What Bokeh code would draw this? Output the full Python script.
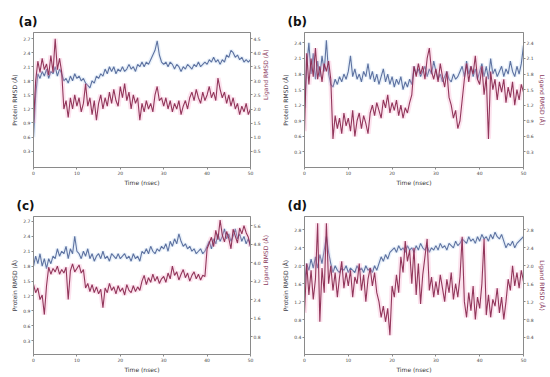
import math
from bokeh.plotting import figure
from bokeh.models import Range1d, LinearAxis, FixedTicker, PrintfTickFormatter
from bokeh.layouts import gridplot
from bokeh.embed import file_html
from bokeh.resources import INLINE

time_ns = [
    0.0, 0.5, 1.0, 1.5, 2.0, 2.5, 3.0, 3.5, 4.0, 4.5,
    5.0, 5.5, 6.0, 6.5, 7.0, 7.5, 8.0, 8.5, 9.0, 9.5,
    10.0, 10.5, 11.0, 11.5, 12.0, 12.5, 13.0, 13.5, 14.0, 14.5,
    15.0, 15.5, 16.0, 16.5, 17.0, 17.5, 18.0, 18.5, 19.0, 19.5,
    20.0, 20.5, 21.0, 21.5, 22.0, 22.5, 23.0, 23.5, 24.0, 24.5,
    25.0, 25.5, 26.0, 26.5, 27.0, 27.5, 28.0, 28.5, 29.0, 29.5,
    30.0, 30.5, 31.0, 31.5, 32.0, 32.5, 33.0, 33.5, 34.0, 34.5,
    35.0, 35.5, 36.0, 36.5, 37.0, 37.5, 38.0, 38.5, 39.0, 39.5,
    40.0, 40.5, 41.0, 41.5, 42.0, 42.5, 43.0, 43.5, 44.0, 44.5,
    45.0, 45.5, 46.0, 46.5, 47.0, 47.5, 48.0, 48.5, 49.0, 49.5,
    50.0]

x_ticks = [0, 10, 20, 30, 40, 50]

# ---------- panel (a) ----------
a_protein = [
    0.60, 1.50, 1.95, 1.85, 2.00, 1.90, 2.05, 1.85, 2.00, 1.95,
    2.10, 1.90, 2.05, 1.95, 1.80, 1.85, 1.75, 1.90, 1.80, 1.95,
    1.85, 1.90, 1.80, 1.85, 1.75, 1.70, 1.65, 1.80, 1.75, 1.90,
    1.85, 1.95, 1.90, 2.05, 1.95, 2.10, 2.00, 2.10, 1.95, 2.05,
    2.00, 2.10, 2.00, 2.05, 2.15, 2.05, 2.10, 2.00, 2.15, 2.10,
    2.20, 2.10, 2.20, 2.15, 2.25, 2.35, 2.45, 2.65, 2.35, 2.20,
    2.15, 2.20, 2.10, 2.20, 2.15, 2.05, 2.15, 2.10, 2.00, 2.10,
    2.05, 2.15, 2.10, 2.05, 2.15, 2.10, 2.20, 2.10, 2.15, 2.20,
    2.15, 2.25, 2.20, 2.30, 2.20, 2.25, 2.15, 2.25, 2.20, 2.35,
    2.30, 2.45, 2.40, 2.30, 2.35, 2.25, 2.30, 2.20, 2.25, 2.20,
    2.25]
a_ligand = [
    1.50, 3.00, 3.70, 3.30, 3.80, 3.40, 3.60, 3.20, 3.90, 3.30,
    4.50, 3.40, 3.80, 3.30, 2.00, 2.30, 1.70, 2.40, 2.00, 2.50,
    2.10, 2.40, 1.90, 2.20, 2.90, 2.10, 2.40, 1.80, 2.30, 1.60,
    2.20, 2.50, 2.00, 2.40, 2.10, 2.60, 2.20, 2.70, 2.30, 2.10,
    2.80, 2.40, 2.90, 2.30, 2.60, 2.00, 2.50, 2.20, 2.40, 1.60,
    2.20, 1.90, 2.30, 2.00, 2.20, 1.90, 2.50, 2.80, 2.30, 2.40,
    2.10, 2.40, 2.00, 2.30, 1.90, 2.20, 2.00, 2.30, 1.80, 2.10,
    2.30, 2.00, 2.40, 2.60, 2.30, 2.70, 2.40, 2.20, 2.60, 2.30,
    2.50, 2.80, 2.40, 2.60, 2.30, 3.10, 2.70, 2.40, 2.60, 2.20,
    2.50, 2.10, 2.40, 2.00, 2.20, 1.80, 2.10, 1.90, 2.20, 1.80,
    2.00]
a_left_ticks = [0.3, 0.6, 0.9, 1.2, 1.5, 1.8, 2.1, 2.4, 2.7]
a_right_ticks = [0.5, 1.0, 1.5, 2.0, 2.5, 3.0, 3.5, 4.0, 4.5]

# ---------- panel (b) ----------
b_protein = [
    1.15, 1.95, 2.40, 1.80, 2.20, 1.70, 2.05, 1.75, 2.15, 1.85,
    2.45, 1.80, 1.60, 1.55, 1.70, 1.60, 1.75, 1.65, 1.80, 1.70,
    1.85, 2.15, 1.75, 1.90, 1.70, 1.80, 1.65, 1.85, 1.75, 2.00,
    1.70, 1.85, 1.65, 1.80, 1.60, 1.75, 1.90, 1.65, 1.80, 1.60,
    1.75, 1.55, 1.70, 1.60, 1.75, 1.50, 1.65, 1.55, 1.70, 1.60,
    1.95, 1.80, 1.90, 1.75, 1.85, 1.95, 1.75, 1.90, 1.80, 2.05,
    1.85, 1.70, 1.80, 1.65, 1.75, 1.85, 1.70, 1.65, 1.80, 1.70,
    1.75, 1.85, 1.95, 1.75, 2.05, 1.80, 1.95, 1.75, 1.90, 1.70,
    1.85, 2.00, 1.75, 1.95, 1.70, 2.10, 1.80, 1.90, 1.75, 1.85,
    1.95, 1.75, 1.90, 1.80, 2.05, 1.85, 1.75, 1.95, 1.80, 2.00,
    2.35]
b_ligand = [
    0.70, 2.20, 1.60, 2.10, 1.75, 2.30, 1.70, 1.95, 1.65, 2.00,
    1.85, 2.05, 1.70, 0.55, 1.00, 0.75, 0.95, 0.65, 1.05, 0.80,
    0.95, 0.70, 1.10, 0.60, 0.90, 1.05, 0.75, 1.00, 0.85, 0.65,
    1.05, 1.20, 1.00, 1.25, 1.10, 0.95, 1.30, 1.15, 1.40, 1.05,
    1.25, 1.10, 1.30, 1.00, 1.20, 0.95, 1.15, 1.05, 1.25, 1.40,
    1.95, 1.75, 2.00, 1.80, 1.95, 1.70, 2.10, 2.30, 1.85, 1.70,
    1.90, 1.65, 2.00, 1.75, 1.55, 1.85, 1.35, 1.20, 0.95, 1.10,
    0.75, 0.90, 1.30, 1.70, 2.00, 1.65, 1.95, 1.80, 2.15, 1.70,
    1.60, 1.95, 1.40, 1.75, 0.55, 1.85, 1.50, 1.70, 1.30, 1.65,
    1.45, 1.70, 1.25, 1.55, 1.35, 1.65, 1.20, 1.50, 1.30, 1.60,
    1.45]
b_left_ticks = [0.3, 0.6, 0.9, 1.2, 1.5, 1.8, 2.1, 2.4]
b_right_ticks = [0.3, 0.6, 0.9, 1.2, 1.5, 1.8, 2.1, 2.4]

# ---------- panel (c) ----------
c_protein = [
    1.80, 2.00, 1.85, 2.05, 1.80, 1.95, 1.75, 1.95, 1.85, 2.00,
    1.95, 2.15, 2.00, 2.10, 2.05, 2.20, 1.95, 2.15, 2.05, 2.40,
    2.10, 2.05, 1.95, 2.10, 2.00, 2.15, 1.95, 2.05, 1.90, 2.00,
    2.05, 1.95, 2.10, 1.95, 2.00, 1.90, 2.05, 2.00, 1.95, 2.05,
    1.95, 2.00, 2.05, 1.95, 2.00, 1.90, 2.05, 1.95, 2.00, 1.90,
    2.10, 2.05, 2.15, 2.05, 2.20, 2.10, 2.05, 2.15, 2.10, 2.20,
    2.15, 2.25, 2.10, 2.30, 2.20, 2.35, 2.25, 2.45, 2.30, 2.20,
    2.25, 2.15, 2.20, 2.10, 2.15, 2.05, 2.10, 2.15, 2.05, 2.10,
    2.20, 2.30, 2.15, 2.35, 2.25, 2.45, 2.30, 2.40, 2.55, 2.35,
    2.45, 2.30, 2.40, 2.55, 2.35, 2.45, 2.30, 2.40, 2.25, 2.35,
    2.20]
c_ligand = [
    3.05, 2.70, 2.90, 2.40, 2.60, 1.75, 3.00, 3.80, 3.50, 3.75,
    3.60, 3.85, 3.50, 3.70, 3.55, 3.80, 2.40, 3.65, 3.95, 3.60,
    3.75, 3.90, 3.55, 3.70, 2.90, 3.10, 2.75, 3.05, 2.70, 2.95,
    2.65, 2.85, 2.05, 2.90, 2.70, 3.10, 2.80, 2.95, 2.65, 3.00,
    2.75, 2.90, 2.60, 3.05, 2.80, 2.70, 3.00, 2.75, 2.95, 2.80,
    3.20, 3.45, 3.05, 3.35, 3.15, 3.50, 3.20, 3.40, 3.10, 3.30,
    3.40, 3.15, 3.55, 3.30, 3.85, 3.45, 3.60, 3.25, 3.50, 3.70,
    3.35, 3.55, 3.20, 3.45, 3.60, 3.30, 3.50, 3.25, 3.45, 3.40,
    4.60, 4.85, 5.10, 4.70, 5.40, 5.00, 5.85, 5.20, 4.90, 5.35,
    5.05, 4.60, 5.45, 5.15, 4.85, 5.50, 5.25, 5.60, 5.30, 5.10,
    4.70]
c_left_ticks = [0.3, 0.6, 0.9, 1.2, 1.5, 1.8, 2.1, 2.4, 2.7]
c_right_ticks = [0.8, 1.6, 2.4, 3.2, 4.0, 4.8, 5.6]

# ---------- panel (d) ----------
d_protein = [
    1.60, 2.05, 1.90, 2.15, 1.95, 2.20, 1.95, 2.25, 2.05, 2.35,
    2.65, 2.30, 2.05, 1.85, 2.00, 1.90, 1.85, 1.95, 1.90, 2.00,
    1.85, 1.95, 1.90, 1.85, 2.00, 1.90, 1.95, 1.85, 2.00, 1.90,
    1.95, 1.85, 2.00, 1.90, 2.05, 2.20, 2.10, 2.25, 2.15, 2.30,
    2.35, 2.40, 2.30, 2.45, 2.35, 2.40, 2.30, 2.45, 2.35, 2.40,
    2.30, 2.45, 2.35, 2.50, 2.40, 2.35, 2.45, 2.30, 2.40, 2.35,
    2.45, 2.35, 2.50, 2.40, 2.45, 2.35, 2.50, 2.45, 2.40, 2.55,
    2.45, 2.50, 2.60, 2.55, 2.50, 2.65, 2.55, 2.60, 2.50, 2.65,
    2.55, 2.70, 2.60, 2.65, 2.55, 2.70, 2.60, 2.75, 2.65, 2.60,
    2.70, 2.55, 2.40, 2.50, 2.45, 2.55, 2.40, 2.50, 2.55, 2.60,
    2.65]
d_ligand = [
    0.95, 2.05, 1.35, 1.90, 1.25, 1.70, 2.95, 0.75, 1.95, 1.40,
    2.95, 1.60, 2.00, 1.45, 1.85, 1.30, 1.75, 2.10, 1.50, 1.85,
    1.55, 1.90, 1.30, 1.75, 1.60, 2.05, 1.45, 1.80, 1.20, 1.70,
    1.95, 1.55, 1.85, 1.40, 1.20, 0.85, 1.10, 0.75, 1.05, 0.45,
    1.55, 1.30, 1.80, 1.40, 2.20, 1.85, 2.55, 2.10, 2.35, 1.60,
    2.40, 1.35, 2.05, 1.15, 1.80, 2.20, 2.60, 1.45, 1.75, 1.30,
    1.65, 1.35, 1.80, 1.50, 1.20, 1.70, 1.40, 1.85, 1.25, 1.60,
    1.30, 1.75, 2.65, 1.20, 0.85, 1.40, 1.00, 1.55, 0.80, 1.30,
    1.05, 1.60, 2.60, 0.90, 1.35, 0.85, 1.25, 1.10, 1.50, 0.95,
    1.30, 0.80, 1.20, 1.70, 1.45, 2.00, 1.55, 1.85, 1.50, 1.90,
    1.65]
d_left_ticks = [0.4, 0.8, 1.2, 1.6, 2.0, 2.4, 2.8]
d_right_ticks = [0.4, 0.8, 1.2, 1.6, 2.0, 2.4, 2.8]

BLUE = "#566b9c"
BLUE_HALO = "#a8c6ea"
RED = "#8c2c52"
HALO = "#f4a3c6"
FRAME = "#8a8a8a"
FONT = "DejaVu Sans"


def style_axis(ax, label, label_color):
    ax.axis_label = label
    ax.axis_label_text_font = FONT
    ax.axis_label_text_font_size = "6px"
    ax.axis_label_text_font_style = "normal"
    ax.axis_label_text_color = label_color
    ax.axis_label_standoff = 2
    ax.major_label_text_font = FONT
    ax.major_label_text_font_size = "4.5px"
    ax.major_label_text_color = "#444444"
    ax.major_label_standoff = 1
    ax.major_tick_out = 2
    ax.major_tick_in = 0
    ax.minor_tick_out = 0
    ax.minor_tick_in = 0
    ax.axis_line_color = FRAME
    ax.major_tick_line_color = FRAME


def panel(tag, prot, lig, lrange, rrange, lticks, rticks, right_up,
          width, height, b_left, b_right, b_top, b_bottom, title_offset):
    p = figure(width=width, height=height, output_backend="svg", toolbar_location=None,
               x_range=Range1d(0, 50), y_range=Range1d(*lrange),
               min_border_left=b_left, min_border_right=b_right,
               min_border_top=b_top, min_border_bottom=b_bottom)
    p.title.text = tag
    p.title.text_font = FONT
    p.title.text_font_size = "12px"
    p.title.text_font_style = "bold"
    p.title.text_color = "#111111"
    p.title.offset = title_offset
    p.title.standoff = 7
    p.extra_y_ranges = {"lig": Range1d(*rrange)}
    p.xgrid.visible = False
    p.ygrid.visible = False
    p.outline_line_color = FRAME
    p.outline_line_width = 1
    p.background_fill_color = "white"
    p.border_fill_color = "white"

    p.xaxis.ticker = FixedTicker(ticks=x_ticks)
    style_axis(p.xaxis[0], "Time (nsec)", "#333333")
    p.xaxis[0].axis_label_standoff = 1
    p.yaxis.ticker = FixedTicker(ticks=lticks)
    p.yaxis.formatter = PrintfTickFormatter(format="%.1f")
    style_axis(p.yaxis[0], "Protein RMSD (\u00c5)", "#3a3a46")

    rax = LinearAxis(y_range_name="lig", ticker=FixedTicker(ticks=rticks),
                     formatter=PrintfTickFormatter(format="%.1f"))
    style_axis(rax, "Ligand RMSD (\u00c5)", "#8b3a5e")
    if right_up:
        rax.axis_label_orientation = math.pi / 2
    p.add_layout(rax, "right")

    p.line(time_ns, prot, color=BLUE_HALO, line_width=4, alpha=0.25)
    p.line(time_ns, prot, color=BLUE, line_width=1.1, alpha=0.95)
    p.line(time_ns, lig, y_range_name="lig", color=HALO, line_width=5, alpha=0.3)
    p.line(time_ns, lig, y_range_name="lig", color=RED, line_width=1.1, alpha=0.95)
    return p


pa = panel("(a)", a_protein, a_ligand, (-0.05, 2.83), (-0.08, 4.72),
           a_left_ticks, a_right_ticks, True, 275, 188, 33, 25, 32, 14, -15)
pb = panel("(b)", b_protein, b_ligand, (0.0, 2.6), (0.0, 2.6),
           b_left_ticks, b_right_ticks, False, 273, 188, 28, 23, 32, 14, -17)
pc = panel("(c)", c_protein, c_ligand, (0.02, 2.8), (0.02, 6.0),
           c_left_ticks, c_right_ticks, True, 275, 188, 33, 25, 28, 22, -17)
pd = panel("(d)", d_protein, d_ligand, (0.02, 3.1), (0.02, 3.1),
           d_left_ticks, d_right_ticks, False, 273, 188, 29, 22, 26, 22, -17)

grid = gridplot([[pa, pb], [pc, pd]], toolbar_location=None)

open("out.html", "w").write(file_html(grid, INLINE))
